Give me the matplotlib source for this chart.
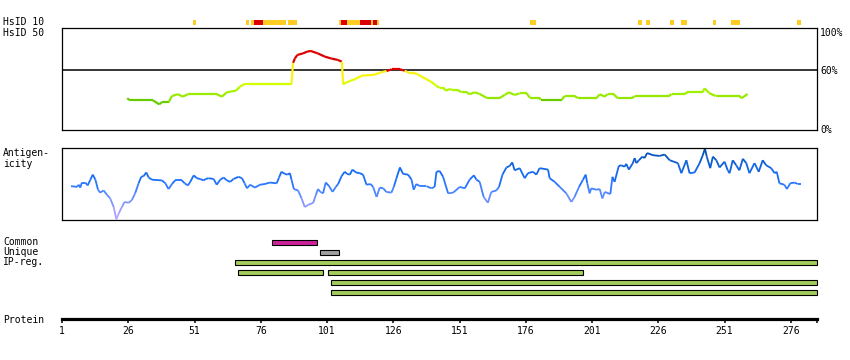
import numpy as np
import matplotlib
matplotlib.use('Agg')
import matplotlib.pyplot as plt
from matplotlib.collections import LineCollection
from matplotlib.colors import LinearSegmentedColormap

# sequence / axis
seq_end = 286
protein_ticks = [1, 26, 51, 76, 101, 126, 151, 176, 201, 226, 251, 276]

# HsID 10 strip: (start, end, level)  level 1 = yellow, 2 = red
hsid10 = [(50.4, 51.5, 1), (70.4, 71.4, 1), (72.3, 73.4, 1), (73.4, 76.8, 2),
          (76.8, 85.5, 1), (86.1, 89.5, 1), (105.4, 106.2, 1), (106.2, 108.5, 2),
          (108.5, 113.4, 1), (113.4, 117.5, 2), (117.5, 118.3, 1), (118.3, 119.8, 2),
          (119.8, 120.5, 1), (177.5, 179.7, 1), (218.2, 219.7, 1), (221.2, 222.7, 1),
          (230.3, 231.8, 1), (234.4, 236.7, 1), (246.5, 247.6, 1), (253.3, 256.7, 1),
          (278.2, 279.7, 1)]

# HsID 50 line (%)
hsid_res = [25.6, 26.6, 35.3, 37.7, 38.7, 41.3, 42.4, 44.7, 46.6, 48.5, 59.4, 61.3, 63.2,
            66.6, 68.1, 69.6, 70.0, 87.6, 88.2, 88.9, 89.8, 91.9, 93.8, 94.9, 97.5, 100.2,
            102.8, 105.1, 106.6, 107.1, 108.1, 109.6, 111.5, 114.1, 119.0, 120.9, 123.5,
            125.4, 128.5, 130.3, 132.2, 133.4, 135.2, 136.7, 138.6, 140.5, 142.4, 143.5,
            145.0, 145.8, 147.3, 148.1, 150.3, 151.8, 153.7, 154.8, 156.7, 158.6, 161.3,
            166.2, 168.0, 169.6, 171.8, 173.7, 176.3, 177.5, 181.2, 181.6, 189.5, 190.7,
            194.4, 195.6, 202.7, 203.9, 205.8, 206.9, 209.1, 210.7, 215.9, 217.1, 229.9,
            231.0, 235.9, 237.0, 242.7, 243.5, 245.3, 247.6, 256.7, 257.4, 259.7]
hsid_val = [31.9, 29.8, 29.8, 25.8, 28, 28, 34, 36, 33.5, 36, 36, 33.5, 37.9,
            39.5, 43.5, 45.9, 46.5, 46.5, 67.6, 72, 75.4, 77, 79, 79.4, 77, 73.7,
            71.7, 70.4, 68.6, 45.9, 47.5, 49.2, 51, 54.6, 55.6, 57.6, 59.3,
            61, 61, 59.6, 57, 57.6, 56, 53.6, 51, 48, 44, 42.5,
            42.5, 39.5, 41.2, 40.2, 40.2, 37.9, 37.9, 35.9, 37.9, 36.2, 32.2,
            32.2, 35.2, 37.9, 35.2, 36.9, 36.9, 32.5, 32.5, 30.2, 30.2, 34.2,
            34.2, 32.2, 32.2, 35.9, 33.5, 36.2, 36.2, 31.9, 31.9, 33.9, 33.9,
            36.2, 36.2, 37.9, 37.9, 41.9, 36.9, 34.2, 34.2, 31.9, 36.2]

# antigenicity (relative 0..1)
anti_res = [4.4, 6.7, 7.3, 7.9, 8.5, 9.8, 10.7, 11.7, 12.6, 13.6, 14.6, 15.4, 16.7, 18.0,
            19.2, 20.5, 21.5, 22.4, 23.6, 24.6, 26.2, 27.4, 28.6, 29.9, 30.9, 31.8, 32.8,
            33.7, 34.9, 38.7, 40.0, 41.2, 42.5, 43.7, 46.2, 47.3, 48.5, 49.4, 50.7, 51.9,
            53.1, 54.4, 55.3, 56.3, 58.2, 59.4, 60.7, 62.0, 63.2, 64.5, 65.7, 67.6, 68.9,
            69.9, 70.8, 72.0,
            73.8, 75.7, 77.6, 79.4, 82.0, 82.9, 83.8, 85.1, 86.0, 87.0, 87.6, 88.5, 90.1,
            91.4, 92.6, 93.9, 95.8, 96.8, 97.6, 98.5, 99.5, 100.5, 101.8, 103.1, 104.3,
            105.2, 106.5, 107.7, 108.6, 109.6, 110.6, 111.9, 113.4, 114.6, 115.9, 117.4,
            118.4, 119.7, 120.9, 122.2, 123.4, 125.3, 126.2, 127.2, 128.5, 129.7, 131.6,
            132.9, 133.7, 134.7, 136.0, 138.5, 140.4, 141.6, 142.3, 143.5,
            144.8, 146.7, 148.6, 151.1, 153.0, 154.8, 156.4, 157.4, 158.6, 160.1, 161.7,
            163.0, 164.9, 165.9, 167.2, 168.7, 169.9, 170.9, 171.8, 173.7, 175.6, 176.8,
            178.7, 180.0, 181.2, 184.4, 185.0, 186.9, 188.8, 191.3, 193.2, 194.4, 196.1,
            197.6, 198.6, 199.2, 200.1, 200.7, 202.6, 203.9, 204.9, 205.8, 207.9, 208.7,
            209.5, 211.1, 212.0, 213.3, 213.9, 214.9, 216.4, 217.1, 217.7, 218.7, 220.0,
            220.8, 221.8, 224.0, 226.5, 228.4, 230.3, 233.4, 234.7, 236.6, 237.8, 239.7,
            241.6, 242.8, 243.6, 244.3, 245.6, 246.6, 247.9, 249.1, 251.0, 252.2, 252.9,
            254.1, 255.4, 256.6, 257.9, 259.2, 260.4, 262.3, 263.9, 265.4, 266.7, 268.6,
            269.9, 270.7, 271.7, 273.6, 274.5, 275.8, 277.4, 278.6, 279.9]
anti_val = [.47, .46, .49, .45, .52, .52, .48, .56, .63, .56, .42, .38, .41, .35,
            .30, .18, .01, .09, .18, .25, .24, .28, .37, .51, .60, .61, .66,
            .59, .56, .55, .51, .43, .50, .55, .55, .51, .48, .53, .62, .58,
            .57, .55, .57, .58, .57, .49, .56, .59, .55, .53, .57, .60, .58,
            .51, .44, .49,
            .45, .49, .50, .52, .51, .59, .67, .64, .63, .65, .56, .43, .41,
            .30, .18, .21, .24, .35, .43, .39, .37, .52, .47, .39, .46,
            .50, .61, .67, .64, .63, .70, .66, .65, .63, .49, .50,
            .46, .32, .45, .44, .39, .38, .46, .58, .73, .64, .63,
            .56, .42, .50, .47, .47, .44, .46, .67, .68,
            .60, .37, .38, .46, .44, .56, .62, .56, .53, .32, .24,
            .39, .41, .46, .63, .73, .75, .80, .69, .72, .58, .65,
            .67, .63, .72, .70, .58, .53, .46, .37, .25, .32, .46,
            .56, .63, .51, .37, .44, .42, .43, .30, .39, .36, .60,
            .53, .75, .76, .74, .78, .70, .79, .86, .79, .83, .88,
            .86, .93, .90, .89, .91, .83, .79, .65, .83, .65, .66,
            .79, .90, .99, .88, .72, .88, .83, .73, .81, .69, .65,
            .83, .76, .69, .85, .79, .65, .79, .67, .83, .76, .72,
            .65, .67, .51, .49, .43, .51, .52, .50, .50]

# region bars
common = (80.2, 97.4)
unique = (98.3, 105.6)
ip_regions = [(66.2, 286, 2), (67.5, 99.5, 3), (101.4, 197.6, 3), (102.5, 286, 4), (102.5, 286, 5)]

W, H = 850, 360
mono = 'DejaVu Sans Mono'
fs = 7

fig = plt.figure(figsize=(W / 100, H / 100), dpi=100)


def px_axes(x0, y0, x1, y1):
    return fig.add_axes([x0 / W, 1 - y1 / H, (x1 - x0) / W, (y1 - y0) / H])


def label(x, y, s, ha='left'):
    fig.text(x / W, 1 - y / H, s, family=mono, fontsize=fs, ha=ha, va='center')


x_left, x_right = 62, 817.3

# --- HsID 10 strip
ax10 = px_axes(x_left, 20.3, x_right, 24.7)
ax10.set_xlim(1, seq_end)
ax10.set_ylim(0, 1)
ax10.axis('off')
for s, e, lev in hsid10:
    ax10.barh(0.5, e - s, left=s, height=1, color='#ffcc22' if lev == 1 else '#dd0000', lw=0)

# --- HsID 50 panel
green_map = LinearSegmentedColormap.from_list('g', ['#90e400', '#a0f200', '#ccff00', '#f4f800', '#ffee22'])


def hsid_colour(v):
    if v >= 60:
        return '#dd0000'
    if v < 31:
        return '#66cc00'
    return green_map((v - 31) / 29)


ax50 = px_axes(x_left, 28, x_right, 130)
ax50.set_xlim(1, seq_end)
ax50.set_ylim(0, 102.5)
ax50.axhline(60, color='black', lw=1.1)
pts = np.column_stack([hsid_res, hsid_val])
segs = np.stack([pts[:-1], pts[1:]], axis=1)
cols = [hsid_colour((a + b) / 2) for a, b in zip(hsid_val[:-1], hsid_val[1:])]
ax50.add_collection(LineCollection(segs, colors=cols, linewidths=1.6, capstyle='butt'))
ax50.set_xticks([])
ax50.set_yticks([])
for sp in ax50.spines.values():
    sp.set_linewidth(0.9)

label(820, 32.7, '100%')
label(820, 70.5, '60%')
label(820, 130, '0%')
label(3, 22, 'HsID 10')
label(3, 32.5, 'HsID 50')

# --- Antigenicity panel
blue_map = LinearSegmentedColormap.from_list(
    'b', [(0, '#c4a8ff'), (0.2, '#9098ff'), (0.4, '#4c86ff'), (0.52, '#1f72ff'),
          (0.7, '#1468ea'), (0.85, '#0a58c6'), (1.0, '#004aa8')])

axa = px_axes(x_left, 148, x_right, 220)
axa.set_xlim(1, seq_end)
axa.set_ylim(0, 1)
pts = np.column_stack([anti_res, anti_val])
segs = np.stack([pts[:-1], pts[1:]], axis=1)
cols = [blue_map((a + b) / 2) for a, b in zip(anti_val[:-1], anti_val[1:])]
axa.add_collection(LineCollection(segs, colors=cols, linewidths=1.3))
axa.set_xticks([])
axa.set_yticks([])
for sp in axa.spines.values():
    sp.set_linewidth(0.9)

label(3, 153.3, 'Antigen-')
label(3, 163.7, 'icity')

# --- region bars + protein axis
axb = px_axes(x_left, 237.3, x_right, 319.3)
axb.set_xlim(1, seq_end)
axb.set_ylim(7.7, -0.5)
bh = 0.47
axb.barh(0, common[1] - common[0], left=common[0], height=bh, color='#cc2299',
         edgecolor='black', lw=0.8, clip_on=False)
axb.barh(1, unique[1] - unique[0], left=unique[0], height=bh, color='#a0a0a0',
         edgecolor='black', lw=0.8, clip_on=False)
for s, e, row in ip_regions:
    axb.barh(row, e - s, left=s, height=bh, color='#a4cc5c', edgecolor='black',
             lw=0.8, clip_on=False)

for side in ['top', 'left', 'right']:
    axb.spines[side].set_visible(False)
axb.spines['bottom'].set_linewidth(2.3)
axb.set_yticks([])
axb.set_xticks(protein_ticks)
axb.set_xticklabels([str(t) for t in protein_ticks], family=mono, fontsize=fs)
axb.set_xticks([seq_end], minor=True)
axb.tick_params(axis='x', which='both', direction='out', length=3, width=1.1, pad=2)

label(3, 242.3, 'Common')
label(3, 252.3, 'Unique')
label(3, 262.3, 'IP-reg.')
label(3, 320, 'Protein')

fig.savefig('out.png', dpi=100)
